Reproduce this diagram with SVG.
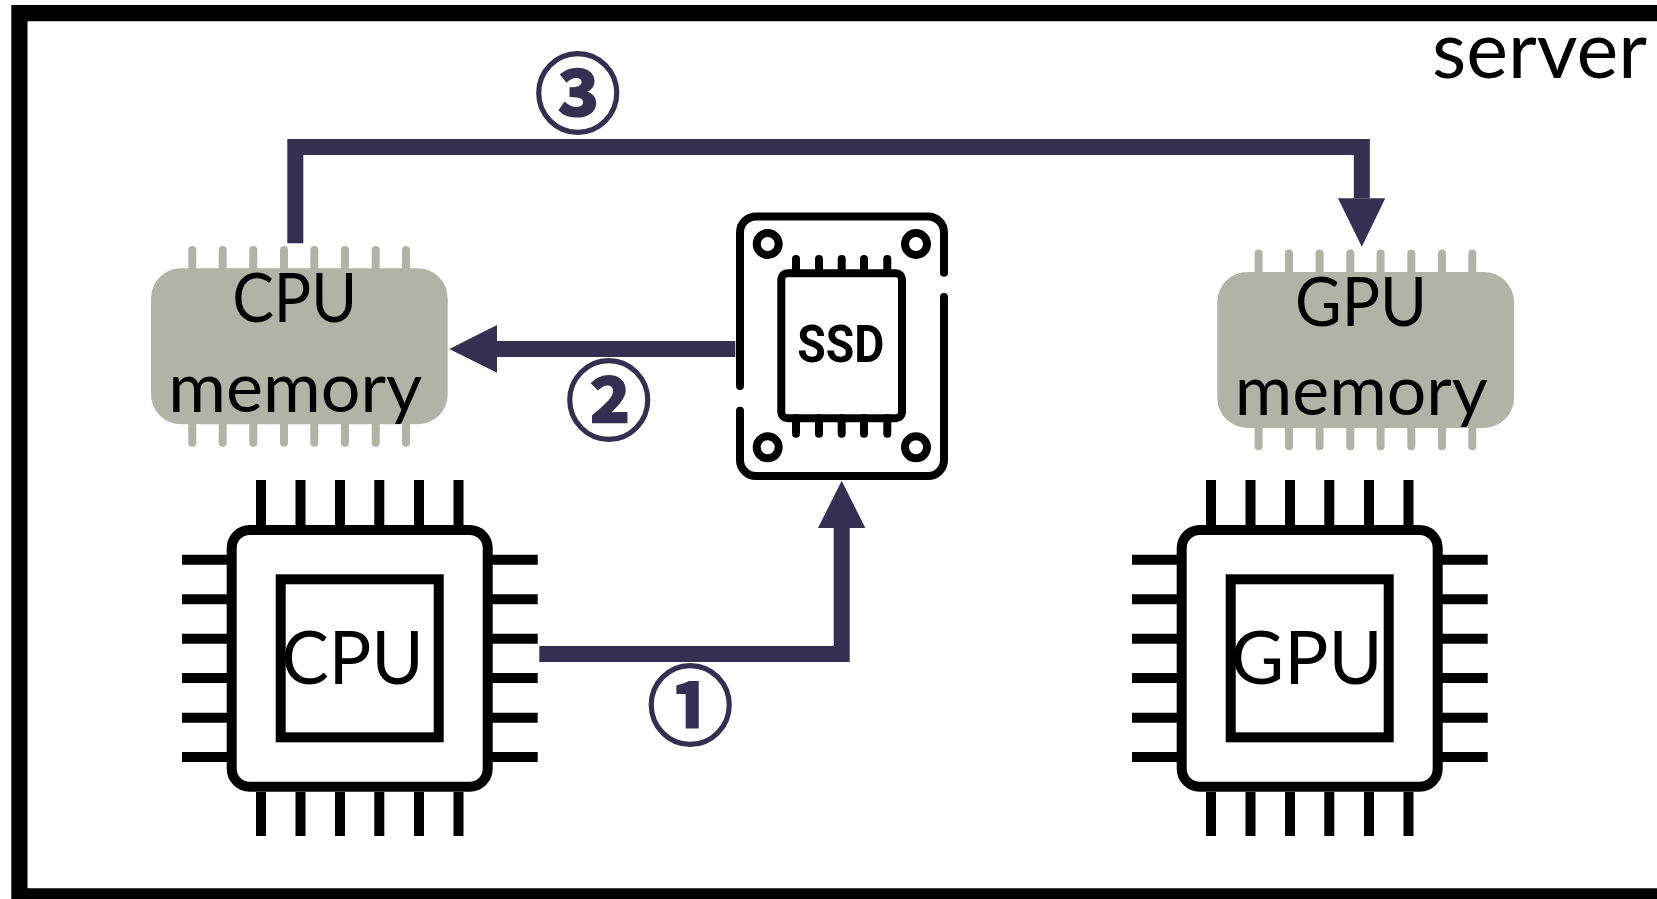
<svg xmlns="http://www.w3.org/2000/svg" width="1657" height="899" viewBox="0 0 1657 899">
<style>
.t{font-family:Lato,"Open Sans","Liberation Sans",sans-serif;fill:#000;text-anchor:middle}
.num{font-family:"Noto Sans CJK SC","DejaVu Sans",sans-serif;font-weight:700;fill:#352f52;stroke:#352f52;stroke-width:2;text-anchor:middle;font-size:86px}
.mem{fill:#b1b3a6}
.memp{stroke:#b1b3a6;stroke-width:8;stroke-linecap:round;fill:none}
.k{fill:none;stroke:#000;stroke-width:10}
.ks{fill:none;stroke:#000;stroke-width:8;stroke-linecap:round}
.link{fill:none;stroke:#352f52;stroke-width:16;stroke-linejoin:miter}
.head{fill:#352f52}
</style>
<defs>
<g id="mem-shape">
<path class="memp" d="M192.300 250V268M222.700 250V268M253.300 250V268M284 250V268M314.300 250V268M345 250V268M375.700 250V268M406 250V268M192.300 424V442.700M222.700 424V442.700M253.300 424V442.700M284 424V442.700M314.300 424V442.700M345 424V442.700M375.700 424V442.700M406 424V442.700"/>
<rect class="mem" x="151" y="268.300" width="296.700" height="156" rx="30" ry="30"/>
</g>
<g id="chip-shape">
<path class="k" d="M261 480V525M300.500 480V525M340 480V525M379.300 480V525M419 480V525M458.500 480V525M261 792V836M300.500 792V836M340 792V836M379.300 792V836M419 792V836M458.500 792V836M182 559.700H227M182 599.300H227M182 638.700H227M182 678H227M182 717.700H227M182 757H227M492 559.700H537.700M492 599.300H537.700M492 638.700H537.700M492 678H537.700M492 717.700H537.700M492 757H537.700"/>
<rect class="k" x="231.700" y="530" width="256" height="256.700" rx="18" ry="18"/>
<rect class="k" x="280.700" y="579.300" width="158" height="158"/>
</g>
</defs>
<g id="server">
<path fill="none" stroke="#000" stroke-width="16.200" d="M1670 13.200H19.400V896.400H1670"/>
<text class="t" x="1539.500" y="78" font-size="79" textLength="215" lengthAdjust="spacingAndGlyphs">server</text>
</g>
<g id="cpu-memory">
<use href="#mem-shape"/>
<text class="t" x="294.700" y="322" font-size="68" textLength="125" lengthAdjust="spacingAndGlyphs">CPU</text>
<text class="t" x="295.200" y="411.700" font-size="69" textLength="254" lengthAdjust="spacingAndGlyphs">memory</text>
</g>
<g id="gpu-memory">
<use href="#mem-shape" transform="translate(1066.300 3.600)"/>
<text class="t" x="1361" y="326" font-size="68" textLength="132" lengthAdjust="spacingAndGlyphs">GPU</text>
<text class="t" x="1361.300" y="415" font-size="69" textLength="253" lengthAdjust="spacingAndGlyphs">memory</text>
</g>
<g id="cpu">
<use href="#chip-shape"/>
<text class="t" x="352.500" y="684" font-size="74" textLength="142" lengthAdjust="spacingAndGlyphs">CPU</text>
</g>
<g id="gpu">
<use href="#chip-shape" transform="translate(950 0)"/>
<text class="t" x="1306.500" y="684" font-size="74" textLength="152" lengthAdjust="spacingAndGlyphs">GPU</text>
</g>
<g id="ssd">
<path class="ks" d="M740 386V232.500A16 16 0 0 1 756 216.500H928A16 16 0 0 1 944 232.500V272.700M944 297V460A16 16 0 0 1 928 476H756A16 16 0 0 1 740 460V410.700"/>
<rect class="ks" x="781.300" y="273.300" width="120.700" height="145" rx="6" ry="6"/>
<path class="ks" d="M796 259V273M819 259V273M841.700 259V273M864 259V273M887.300 259V273M796 418V433.700M819 418V433.700M841.700 418V433.700M864 418V433.700M887.300 418V433.700"/>
<circle class="ks" cx="767.700" cy="244" r="11"/>
<circle class="ks" cx="916" cy="244" r="11"/>
<circle class="ks" cx="767.700" cy="447.300" r="11"/>
<circle class="ks" cx="916" cy="447.300" r="11"/>
<text x="840.800" y="361.700" font-family="Roboto,'Liberation Sans',sans-serif" font-weight="700" font-size="51.600" text-anchor="middle" textLength="87" lengthAdjust="spacingAndGlyphs">SSD</text>
</g>
<g id="connectors">
<path class="link" d="M539.300 654H841.700V528"/>
<path class="head" d="M818 528H865.300L841.700 480.700Z"/>
<path class="link" d="M735.300 349H497"/>
<path class="head" d="M497 325V372.700L449.300 349Z"/>
<path class="link" d="M295.300 243.300V147H1361.800V198.300"/>
<path class="head" d="M1338 198.300H1385.300L1361.800 246.700Z"/>
</g>
<g id="step-1"><text class="num" x="690.300" y="737.500">①</text></g>
<g id="step-2"><text class="num" x="608.700" y="432.900">②</text></g>
<g id="step-3"><text class="num" x="577.700" y="125.500">③</text></g>
</svg>
